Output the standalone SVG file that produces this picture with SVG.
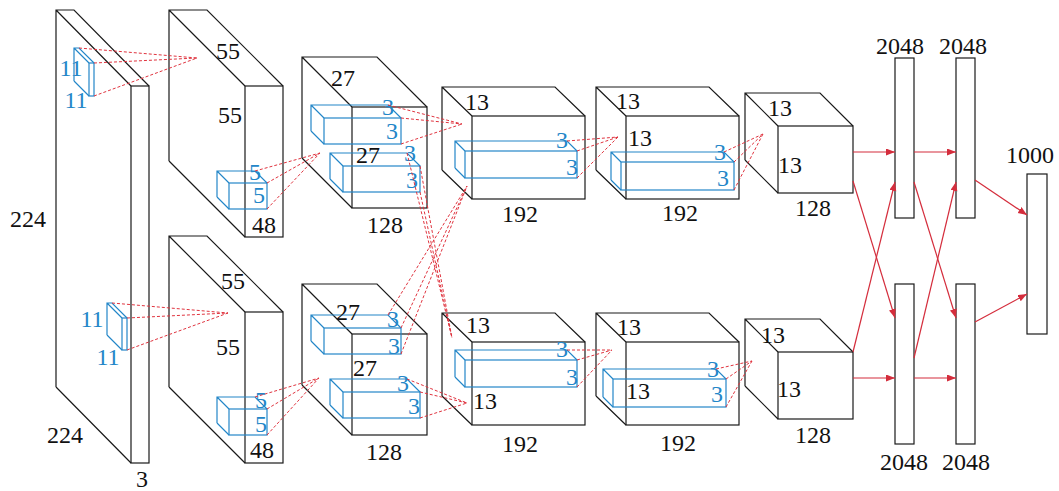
<svg xmlns="http://www.w3.org/2000/svg" width="1059" height="491" viewBox="0 0 1059 491">
  <defs>
    <style>
      .box { fill: none; stroke: #1a1a1a; stroke-width: 1.2; }
      .kern { fill: none; stroke: #2386c8; stroke-width: 1.2; }
      .rf { fill: none; stroke: #e0343f; stroke-width: 1; stroke-dasharray: 3 2; }
      .arr { fill: none; stroke: #d42d3c; stroke-width: 1.2; marker-end: url(#head); }
      .lbl { font-size: 24px; text-anchor: middle; fill: #111; }
      .lbl .b { fill: #2386c8; }
    </style>
    <marker id="head" markerUnits="userSpaceOnUse" markerWidth="10" markerHeight="8" refX="9" refY="3.5" orient="auto">
      <path d="M0,0 L9,3.5 L0,7 z" fill="#d42d3c"/>
    </marker>
  </defs>
  <rect width="1059" height="491" fill="#fff"/>

  <g class="lbl" font-family="Liberation Serif, Times New Roman, DejaVu Serif, serif">

  <!-- input 224x224x3 -->
  <g id="input">
    <path class="box" d="M56,387 V10 H74 L149,86 M56,10 L131,86 M56,387 L131,463"/>
    <rect class="box" x="131" y="86" width="18" height="377"/>
    <path class="kern" d="M74,81 V48 H79 L94,63 M74,48 L89,63 M74,81 L89,96"/>
    <rect class="kern" x="89" y="63" width="5" height="33"/>
    <path class="kern" d="M107,335 V303 H112 L127,318 M107,303 L122,318 M107,335 L122,350"/>
    <rect class="kern" x="122" y="318" width="5" height="32"/>
    <text x="28" y="227">224</text>
    <text x="65" y="443">224</text>
    <text x="142" y="487">3</text>
    <text class="b" x="71" y="76">11</text>
    <text class="b" x="76" y="108">11</text>
    <text class="b" x="92" y="327">11</text>
    <text class="b" x="108" y="365">11</text>
  </g>

  <!-- conv1, upper half -->
  <g id="conv1-top">
    <path class="box" d="M169,161 V10 H207 L283,86 M169,10 L245,86 M169,161 L245,237"/>
    <rect class="box" x="245" y="86" width="38" height="151"/>
    <path class="kern" d="M217,197 V171 H255 L267,183 M217,171 L229,183 M217,197 L229,209"/>
    <rect class="kern" x="229" y="183" width="38" height="26"/>
    <text x="228" y="59">55</text>
    <text x="230" y="123">55</text>
    <text x="264" y="233">48</text>
    <text class="b" x="255" y="180">5</text>
    <text class="b" x="259" y="203">5</text>
  </g>

  <!-- conv1, lower half -->
  <g id="conv1-bottom">
    <path class="box" d="M169,387 V236 H207 L283,312 M169,236 L245,312 M169,387 L245,463"/>
    <rect class="box" x="245" y="312" width="38" height="151"/>
    <path class="kern" d="M217,423 V397 H255 L267,409 M217,397 L229,409 M217,423 L229,435"/>
    <rect class="kern" x="229" y="409" width="38" height="26"/>
    <text x="233" y="289">55</text>
    <text x="228" y="355">55</text>
    <text x="262" y="458">48</text>
    <text class="b" x="261" y="408">5</text>
    <text class="b" x="261" y="432">5</text>
  </g>

  <!-- conv2, upper half -->
  <g id="conv2-top">
    <path class="box" d="M302,158 V57 H377 L427,107 M302,57 L352,107 M302,158 L352,208"/>
    <rect class="box" x="352" y="107" width="75" height="101"/>
    <path class="kern" d="M311,131 V105 H388 L401,118 M311,105 L324,118 M311,131 L324,144"/>
    <rect class="kern" x="324" y="118" width="77" height="26"/>
    <path class="kern" d="M330,179 V153 H407 L420,166 M330,153 L343,166 M330,179 L343,192"/>
    <rect class="kern" x="343" y="166" width="77" height="26"/>
    <text x="343" y="86">27</text>
    <text x="368" y="163">27</text>
    <text x="385" y="233">128</text>
    <text class="b" x="388" y="115">3</text>
    <text class="b" x="392" y="139">3</text>
    <text class="b" x="410" y="161">3</text>
    <text class="b" x="412" y="188">3</text>
  </g>

  <!-- conv2, lower half -->
  <g id="conv2-bottom">
    <path class="box" d="M302,385 V284 H377 L427,334 M302,284 L352,334 M302,385 L352,435"/>
    <rect class="box" x="352" y="334" width="75" height="101"/>
    <path class="kern" d="M311,341 V315 H388 L401,328 M311,315 L324,328 M311,341 L324,354"/>
    <rect class="kern" x="324" y="328" width="77" height="26"/>
    <path class="kern" d="M330,405 V379 H407 L420,392 M330,379 L343,392 M330,405 L343,418"/>
    <rect class="kern" x="343" y="392" width="77" height="26"/>
    <text x="348" y="320">27</text>
    <text x="365" y="376">27</text>
    <text x="384" y="460">128</text>
    <text class="b" x="393" y="327">3</text>
    <text class="b" x="394" y="354">3</text>
    <text class="b" x="403" y="391">3</text>
    <text class="b" x="414" y="414">3</text>
  </g>

  <!-- conv3, upper half -->
  <g id="conv3-top">
    <path class="box" d="M442,170 V87 H555 L585,116 M442,87 L472,116 M442,170 L472,199"/>
    <rect class="box" x="472" y="116" width="113" height="83"/>
    <path class="kern" d="M455,168 V141 H567 L577,151 M455,141 L465,151 M455,168 L465,178"/>
    <rect class="kern" x="465" y="151" width="112" height="27"/>
    <text x="477" y="110">13</text>
    <text x="520" y="222">192</text>
    <text class="b" x="562" y="148">3</text>
    <text class="b" x="572" y="175">3</text>
  </g>

  <!-- conv3, lower half -->
  <g id="conv3-bottom">
    <path class="box" d="M442,396 V313 H555 L585,342 M442,313 L472,342 M442,396 L472,425"/>
    <rect class="box" x="472" y="342" width="113" height="83"/>
    <path class="kern" d="M455,377 V350 H567 L577,360 M455,350 L465,360 M455,377 L465,387"/>
    <rect class="kern" x="465" y="360" width="112" height="27"/>
    <text x="478" y="333">13</text>
    <text x="485" y="409">13</text>
    <text x="520" y="452">192</text>
    <text class="b" x="562" y="357">3</text>
    <text class="b" x="572" y="385">3</text>
  </g>

  <!-- conv4, upper half -->
  <g id="conv4-top">
    <path class="box" d="M596,170 V87 H709 L739,116 M596,87 L626,116 M596,170 L626,199"/>
    <rect class="box" x="626" y="116" width="113" height="83"/>
    <path class="kern" d="M611,180 V152 H724 L734,162 M611,152 L621,162 M611,180 L621,190"/>
    <rect class="kern" x="621" y="162" width="113" height="28"/>
    <text x="628" y="109">13</text>
    <text x="640" y="146">13</text>
    <text x="680" y="221">192</text>
    <text class="b" x="720" y="160">3</text>
    <text class="b" x="723" y="186">3</text>
  </g>

  <!-- conv4, lower half -->
  <g id="conv4-bottom">
    <path class="box" d="M596,396 V313 H709 L739,342 M596,313 L626,342 M596,396 L626,425"/>
    <rect class="box" x="626" y="342" width="113" height="83"/>
    <path class="kern" d="M603,397 V369 H716 L726,379 M603,369 L613,379 M603,397 L613,407"/>
    <rect class="kern" x="613" y="379" width="113" height="28"/>
    <text x="629" y="335">13</text>
    <text x="638" y="399">13</text>
    <text x="678" y="451">192</text>
    <text class="b" x="713" y="377">3</text>
    <text class="b" x="717" y="402">3</text>
  </g>

  <!-- conv5, upper half -->
  <g id="conv5-top">
    <path class="box" d="M745,160 V93 H820 L853,126 M745,93 L778,126 M745,160 L778,193"/>
    <rect class="box" x="778" y="126" width="75" height="67"/>
    <text x="780" y="116">13</text>
    <text x="790" y="173">13</text>
    <text x="813" y="216">128</text>
  </g>

  <!-- conv5, lower half -->
  <g id="conv5-bottom">
    <path class="box" d="M745,386 V319 H820 L853,352 M745,319 L778,352 M745,386 L778,419"/>
    <rect class="box" x="778" y="352" width="75" height="67"/>
    <text x="773" y="343">13</text>
    <text x="789" y="397">13</text>
    <text x="813" y="443">128</text>
  </g>

  <!-- fully connected layers -->
  <g id="fc6-top"><rect class="box" x="895" y="58" width="19" height="160"/><text x="900" y="54">2048</text></g>
  <g id="fc7-top"><rect class="box" x="956" y="58" width="19" height="160"/><text x="963" y="54">2048</text></g>
  <g id="fc6-bottom"><rect class="box" x="895" y="284" width="19" height="160"/><text x="904" y="470">2048</text></g>
  <g id="fc7-bottom"><rect class="box" x="956" y="284" width="19" height="160"/><text x="966" y="470">2048</text></g>
  <g id="fc8"><rect class="box" x="1027" y="174" width="20" height="160"/><text x="1030" y="163">1000</text></g>

  </g>

  <!-- connectors -->
  <g id="connectors">
    <!-- receptive fields (dashed) -->
    <path class="rf" d="M79,48 L197,58 M94,63 L197,58 M94,96 L197,58"/>
    <path class="rf" d="M112,303 L228,313 M127,318 L228,313 M127,350 L228,313"/>
    <path class="rf" d="M255,171 L320,153 M267,183 L320,153 M267,209 L320,153"/>
    <path class="rf" d="M255,397 L319,378 M267,409 L319,378 M267,435 L319,378"/>
    <path class="rf" d="M388,105 L462,124 M401,118 L462,124 M401,144 L462,124"/>
    <path class="rf" d="M407,153 L452,338 M420,166 L452,338 M420,192 L452,338"/>
    <path class="rf" d="M388,315 L467,186 M401,328 L467,186 M401,354 L467,186"/>
    <path class="rf" d="M407,379 L467,403 M420,392 L467,403 M420,418 L467,403"/>
    <path class="rf" d="M567,141 L618,137 M577,151 L618,137 M577,178 L618,137"/>
    <path class="rf" d="M567,350 L612,350 M577,360 L612,350 M577,387 L612,350"/>
    <path class="rf" d="M724,152 L763,134 M734,162 L763,134 M734,190 L763,134"/>
    <path class="rf" d="M716,369 L752,361 M726,379 L752,361 M726,407 L752,361"/>
    <!-- dense connections -->
    <path class="arr" d="M853,152 L895,152"/>
    <path class="arr" d="M914,152 L956,152"/>
    <path class="arr" d="M853,181 L895,318"/>
    <path class="arr" d="M853,352 L895,182"/>
    <path class="arr" d="M853,378 L895,378"/>
    <path class="arr" d="M914,182 L956,318"/>
    <path class="arr" d="M914,358 L956,182"/>
    <path class="arr" d="M914,378 L956,378"/>
    <path class="arr" d="M975,180 L1027,215"/>
    <path class="arr" d="M975,322 L1027,294"/>
  </g>
</svg>
